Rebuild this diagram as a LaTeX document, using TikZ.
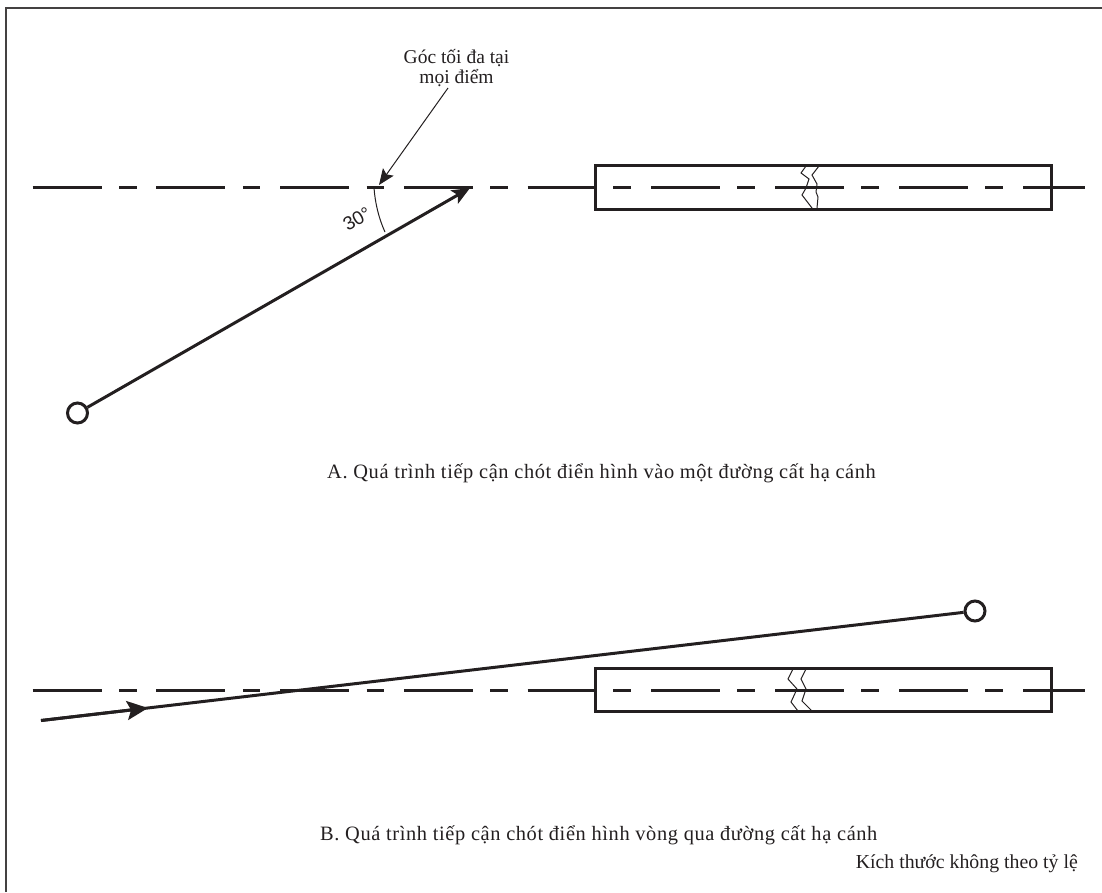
\documentclass[tikz,border=0pt]{standalone}
\usepackage{fontspec}
\setmainfont{Liberation Serif}
\newfontfamily\labelsans{Liberation Sans}
\newfontfamily\captext[LetterSpace=3]{Liberation Serif}
\usetikzlibrary{arrows.meta}
\definecolor{ink}{HTML}{231F20}
\tikzset{
  px/.style={x=1pt,y=-1pt},
  frameline/.style={draw=ink!85,line width=1.3pt},
  rwy/.style={draw=ink,line width=3pt,minimum width=456.5pt,inner sep=0pt,anchor=north west},
  axisline/.style={draw=ink,line width=3pt,dash pattern=on 69pt off 17.5pt on 17.5pt off 19.75pt},
  axisin/.style={draw=ink,line width=3pt},
  track/.style={draw=ink,line width=3pt},
  fine/.style={draw=ink,line width=1pt},
  fix/.style={circle,draw=ink,line width=3pt,fill=white,minimum size=20pt,inner sep=0pt},
  notetext/.style={inner sep=0pt,font=\fontsize{19.5pt}{20pt}\selectfont,text=ink},
  caption/.style={inner sep=0pt,font=\captext\fontsize{20.4pt}{21pt}\selectfont,text=ink},
  tip/.style={-{Stealth[length=18pt,width=15pt,inset=4pt]}},
}
\begin{document}
\begin{tikzpicture}[px]
\useasboundingbox (0,0) rectangle (1102,892);
\path[frameline] (6,892) -- (6,8) -- (1102,8);
% Diagram A
\coordinate (a1) at (32.5,187.5);
\coordinate (a2) at (594,187.5);
\path[axisline] (a1) -- (a2);
\node[rwy,minimum height=43.7pt] (ra) at (593.5,163.8) {};
\foreach \s/\e in {613/631,651/720,737/755,775/844,861/879,899/968,985/1003}
  \path[axisin] (\s,187.5) -- (\e,187.5);
\coordinate (a3) at (1023,187.5);
\coordinate (a4) at (1085,187.5);
\path[axisin] (a3) -- (a4);
\path[fine] (806,166) -- (801,173) -- (809,179) -- (806,188) -- (802,195) -- (812,208);
\path[fine] (819,166) -- (812,175) -- (817,184) -- (816,192) -- (818,197) -- (817,208);
\node[fix] (pa) at (77.5,413) {};
\coordinate (ae) at (470,188);
\path[track,tip] (pa) -- (ae);
\coordinate (arcs) at (374,187.5);
\coordinate (arce) at (385,232);
\path[fine] (arcs) .. controls (375,203) and (379,219) .. (arce);
\node[inner sep=0pt,rotate=30,text=ink,font=\labelsans\fontsize{19pt}{20pt}\selectfont] (deg) at (357,219) {30°};
\node[notetext,align=center,anchor=base] (note) at (456.5,83) {Góc tối đa tại\\mọi điểm};
\coordinate (nf) at (448,88);
\coordinate (nt) at (379,185);
\path[fine,-{Stealth[length=16pt,width=13pt,inset=3pt]}] (nf) -- (nt);
\node[caption,anchor=base west] (capa) at (327,478) {A. Quá trình tiếp cận chót điển hình vào một đường cất hạ cánh};
% Diagram B
\coordinate (b1) at (32.5,690);
\coordinate (b2) at (594,690);
\path[axisline] (b1) -- (b2);
\node[rwy,minimum height=43.4pt] (rb) at (593.5,666.8) {};
\foreach \s/\e in {613/631,651/720,737/755,775/844,861/879,899/968,985/1003}
  \path[axisin] (\s,690) -- (\e,690);
\coordinate (b3) at (1023,690);
\coordinate (b4) at (1085,690);
\path[axisin] (b3) -- (b4);
\path[fine] (793,669) -- (788,679) -- (797,689) -- (791,702) -- (798,711);
\path[fine] (806,669) -- (801,679) -- (806,689) -- (802,701) -- (812,711);
\node[fix] (pb) at (975,611) {};
\coordinate (bs) at (41,720.5);
\path[track] (pb) -- (bs);
\coordinate (bh) at (148,708);
\path[track,-{Stealth[length=21pt,width=19pt,inset=4pt]}] (bs) -- (bh);
\node[caption,anchor=base west] (capb) at (320,840) {B. Quá trình tiếp cận chót điển hình vòng qua đường cất hạ cánh};
\node[notetext,font=\fontsize{19.8pt}{21pt}\selectfont,anchor=base east] (scale) at (1078,868) {Kích thước không theo tỷ lệ};
\end{tikzpicture}
\end{document}
